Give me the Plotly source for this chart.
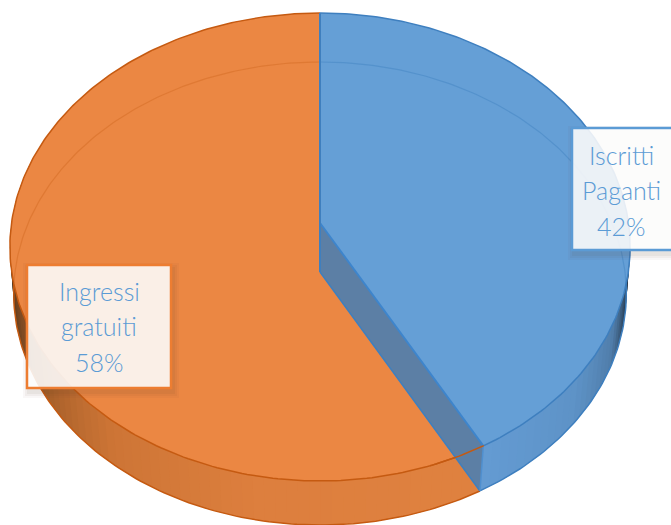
import numpy as np
import plotly.graph_objects as go

categories = [["Iscritti", "Paganti"], ["Ingressi", "gratuiti"]]
values = [42, 58]
percent_labels = ["42%", "58%"]

W, H = 671, 525
CX = 320
# projection of the pie's top and bottom rims (perspective tilt)
TOP = dict(a=308.5, b=231.5, k=0.1026, y0=223)
BOT = dict(a=305.0, b=229.5, k=0.0929, y0=272)

def project(theta_deg, rim):
    t = np.radians(theta_deg)
    X, Y = np.sin(t), np.cos(t)
    w = 1 + rim["k"] * Y
    return CX + rim["a"] * X / w, rim["y0"] - rim["b"] * Y / w

def mix(stops, p):
    xs = [s[0] for s in stops]
    rgb = [np.interp(p, xs, [s[1][i] for s in stops]) for i in range(3)]
    return "rgb(%d,%d,%d)" % tuple(int(v) for v in rgb)

split = 360 * values[0] / sum(values)

fig = go.Figure()

def poly(xs, ys, fill, line=None, width=0):
    fig.add_trace(go.Scatter(
        x=list(xs), y=list(ys), mode="lines", fill="toself", fillcolor=fill,
        line=dict(color=line or fill, width=width), hoverinfo="skip", showlegend=False))

def curve(xs, ys, color, width):
    fig.add_trace(go.Scatter(
        x=list(xs), y=list(ys), mode="lines",
        line=dict(color=color, width=width), hoverinfo="skip", showlegend=False))

def wall(t0, t1, stops, n):
    edges = np.linspace(t0, t1, n + 1)
    for i in range(n):
        a = edges[i]
        b = edges[min(i + 2, n)]
        ax, ay = project(a, TOP)
        bx, by = project(b, TOP)
        cx, cy = project(b, BOT)
        dx, dy = project(a, BOT)
        poly([ax, bx, cx, dx, ax], [ay, by, cy, dy, ay], mix(stops, a))

# side walls
ORANGE_WALL = [(151, (224, 130, 64)), (190, (221, 127, 62)), (218, (205, 117, 54)),
               (240, (160, 92, 40)), (258, (90, 58, 30)), (275, (60, 40, 25))]
BLUE_WALL = [(90, (35, 50, 70)), (104, (42, 63, 85)), (115, (80, 125, 170)),
             (130, (94, 147, 199)), (151.2, (100, 155, 210))]
wall(split, 285, ORANGE_WALL, 70)
wall(split, 85, BLUE_WALL, 35)

# outer rim lines of walls
th_o = np.linspace(split, 285, 140)
curve(*project(th_o, BOT), "#C55A11", 1.5)
th_b = np.linspace(85, split, 70)
curve(*project(th_b, BOT), "#3E7FBF", 1.5)

# top faces
th = np.linspace(split, 360, 240)
ox, oy = project(th, TOP)
poly(np.r_[ox, CX, ox[0]], np.r_[oy, TOP["y0"], oy[0]], "#EB8743")
th = np.linspace(0, split, 180)
bx, by = project(th, TOP)
poly(np.r_[bx, CX, bx[0]], np.r_[by, TOP["y0"], by[0]], "#659FD6")

# rim lines of the top face
curve(ox, oy, "#C55A11", 1.5)
curve(bx, by, "#3E7FBF", 1.5)

# faint back rim of the base seen through the faces
th = np.linspace(-95, 0, 120)
curve(*project(th, BOT), "rgba(197,90,17,0.3)", 1.2)
th = np.linspace(0, 95, 120)
curve(*project(th, BOT), "rgba(46,117,182,0.3)", 1.2)

# cut face between the slices
cx0, cy0 = project(split, TOP)
cx1, cy1 = project(split, BOT)
poly([CX, cx0, cx1, CX, CX], [TOP["y0"], cy0, cy1, BOT["y0"], TOP["y0"]], "#5C7FA5")
curve([CX, cx0], [TOP["y0"], cy0], "#3E85CC", 2)
curve([CX, cx1], [BOT["y0"], cy1], "#3E7FBF", 1.5)
curve([cx0, cx1], [cy0, cy1], "#4F8FCF", 1.5)
curve([CX, CX], [project(0, TOP)[1], BOT["y0"]], "#3F7FBE", 2)
# orange front rim crossing the cut face
th = np.linspace(split - 0.1, split + 10, 20)
curve(*project(th, TOP), "#C55A11", 1.5)

# label boxes
boxes = [
    dict(x0=572, x1=690, y0=128, y1=250, border="#5B9BD5", fill="rgba(255,255,255,0.87)"),
    dict(x0=27, x1=171, y0=265, y1=388, border="#ED7D31", fill="rgba(255,255,255,0.88)"),
]
shapes = []
for b in boxes:
    for grow, alpha in ((6, 0.04), (4, 0.05), (2, 0.06)):
        shapes.append(dict(type="rect", xref="x", yref="y", x0=b["x0"] + 2 - grow, x1=b["x1"] + 2 + grow,
                           y0=b["y0"] + 4 - grow, y1=b["y1"] + 4 + grow, line_width=0,
                           fillcolor=f"rgba(90,60,40,{alpha})", layer="above"))
    shapes.append(dict(type="rect", xref="x", yref="y", x0=b["x0"], x1=b["x1"],
                       y0=b["y0"], y1=b["y1"], line=dict(color=b["border"], width=2.5),
                       fillcolor=b["fill"], layer="above"))

centers = [(621, 190), (99, 326)]
LINE_GAP = 35.5
annotations = []
for (x, y), cat, pct in zip(centers, categories, percent_labels):
    for i, text in enumerate(cat + [pct]):
        annotations.append(dict(
            x=x, y=y + (i - 1) * LINE_GAP, xref="x", yref="y", text=text, showarrow=False,
            align="center", xanchor="center", yanchor="middle",
            font=dict(family="Lato, Roboto", size=25, color="#5B9BD5", weight=300)))

fig.update_layout(
    width=W, height=H, margin=dict(l=0, r=0, t=0, b=0),
    paper_bgcolor="white", plot_bgcolor="white", showlegend=False,
    xaxis=dict(range=[0, W], visible=False, fixedrange=True),
    yaxis=dict(range=[H, 0], visible=False, fixedrange=True),
    shapes=shapes, annotations=annotations)

fig.write_html("out.html", config=dict(displayModeBar=False),
               default_width=W, default_height=H,
               post_script="document.body.style.margin='0';document.body.style.overflow='hidden';")
